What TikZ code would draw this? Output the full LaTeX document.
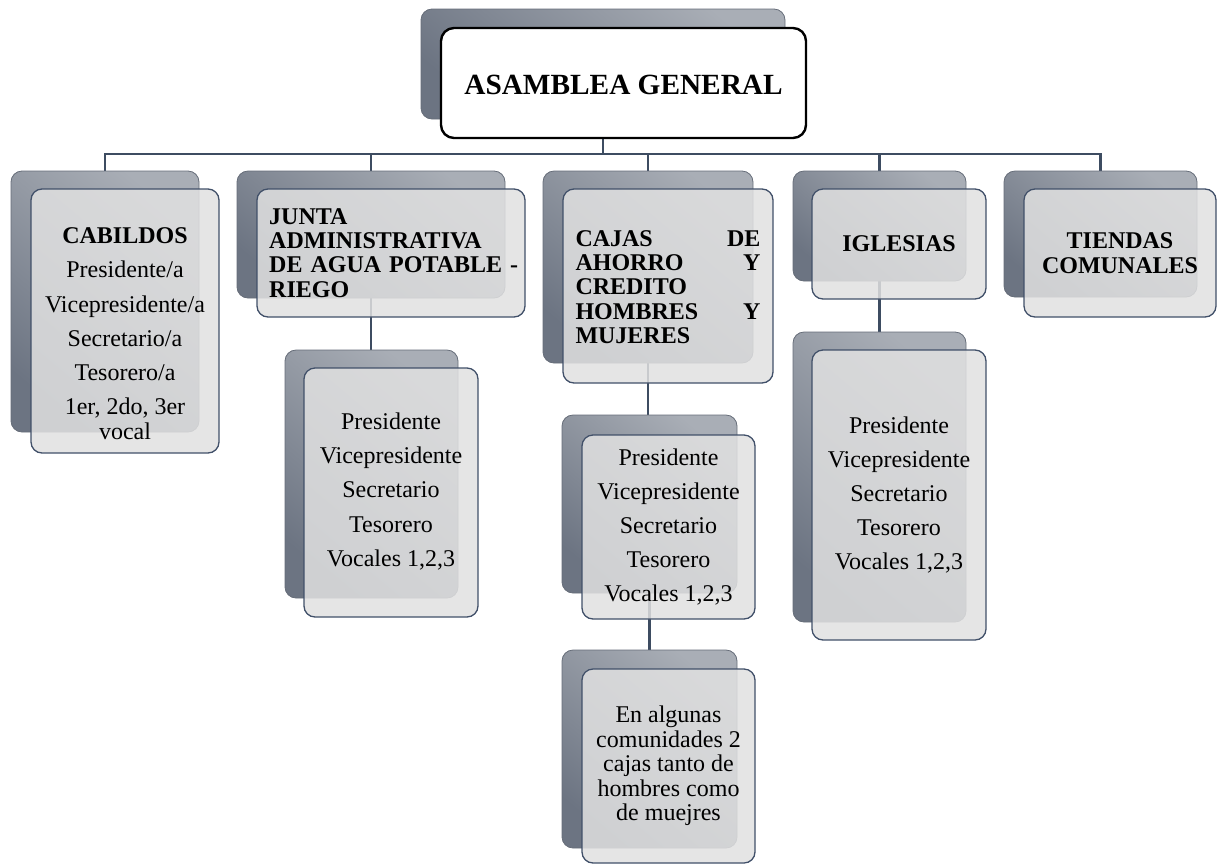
\documentclass[tikz,border=0pt]{standalone}
\usepackage{fontspec}
\setmainfont{Liberation Serif}
\usetikzlibrary{calc}
\pgfdeclarelayer{background}
\pgfsetlayers{background,main}
\definecolor{backL}{HTML}{A9AEB6}
\definecolor{backD}{HTML}{6C7482}
\definecolor{backE}{HTML}{666D79}
\definecolor{frontF}{HTML}{E1E1E1}
\definecolor{frontE}{HTML}{415069}
\definecolor{connC}{HTML}{3D4C61}
\tikzset{
  backbox/.style={rectangle, rounded corners=11pt, anchor=north west, inner sep=0pt, outer sep=0pt,
    draw=backE, line width=0.8pt, top color=backL, bottom color=backD, shading angle=-40},
  frontbox/.style={rectangle, rounded corners=11pt, anchor=north west, inner sep=0pt, outer sep=0pt,
    draw=frontE, line width=1.3pt, fill=frontF, fill opacity=0.85, text opacity=1},
  mainbox/.style={rectangle, rounded corners=13pt, anchor=north west, inner sep=0pt, outer sep=0pt,
    draw=black, line width=2.4pt, fill=white},
  conn/.style={draw=connC, line width=2.8pt},
  lbl/.style={align=center, inner sep=0pt},
  hdr/.style={font=\fontsize{24}{24.3}\selectfont\bfseries},
  roles/.style={font=\fontsize{24}{34.2}\selectfont},
}
\begin{document}
\begin{tikzpicture}[x=1pt,y=-1pt]
\useasboundingbox (0,0) rectangle (1218,863);

% top
\node[backbox, minimum width=364pt, minimum height=110pt] (mainB) at (421,9) {};
\node[mainbox, minimum width=365pt, minimum height=110pt] (mainF) at (441,28) {};
\node[lbl, font=\fontsize{29.3}{30}\selectfont\bfseries] (mainT) at ($(mainF.center)+(0,2)$) {ASAMBLEA GENERAL};

% CABILDOS
\node[backbox, minimum width=188pt, minimum height=261pt] (cabB) at (11,171) {};
\node[frontbox, minimum width=188pt, minimum height=264pt] (cabF) at (31,189) {};
\node[lbl, roles] (cabT) at (125,334)
  {\textbf{CABILDOS}\\Presidente/a\\Vicepresidente/a\\Secretario/a\\Tesorero/a\\1er, 2do, 3er\\[-9pt]vocal};

% JUNTA
\node[backbox, minimum width=268pt, minimum height=127pt] (junB) at (237,171) {};
\node[frontbox, minimum width=268pt, minimum height=128pt] (junF) at (257,189) {};
\node[lbl, hdr, align=left, text width=250pt, anchor=west] (junT) at ($(junF.west)+(12,0)$)
  {JUNTA\\ADMINISTRATIVA\\DE AGUA POTABLE -\\RIEGO};

\node[backbox, minimum width=173pt, minimum height=248pt] (juncB) at (285,350) {};
\node[frontbox, minimum width=174pt, minimum height=249pt] (juncF) at (304,368) {};
\node[lbl, roles] (juncT) at ($(juncF.center)+(0,-1)$)
  {Presidente\\Vicepresidente\\Secretario\\Tesorero\\Vocales 1,2,3};

% CAJAS
\node[backbox, minimum width=210pt, minimum height=192pt] (cajB) at (543,171) {};
\node[frontbox, minimum width=210pt, minimum height=194pt] (cajF) at (563,189) {};
\node[lbl, hdr, align=left, text width=185pt] (cajT) at ($(cajF.center)+(0,1)$)
  {CAJAS\hfill DE\\AHORRO\hfill Y\\CREDITO\\HOMBRES\hfill Y\\MUJERES};

\node[backbox, minimum width=175pt, minimum height=178pt] (caj1B) at (562,415) {};
\node[frontbox, minimum width=173pt, minimum height=184pt] (caj1F) at (582,435) {};
\node[lbl, roles] (caj1T) at ($(caj1F.center)+(0,0)$)
  {Presidente\\Vicepresidente\\Secretario\\Tesorero\\Vocales 1,2,3};

\node[backbox, minimum width=175pt, minimum height=198pt] (caj2B) at (562,650) {};
\node[frontbox, minimum width=173pt, minimum height=194pt] (caj2F) at (582,669) {};
\node[lbl, font=\fontsize{24}{24.5}\selectfont] (caj2T) at (caj2F.center)
  {En algunas\\comunidades 2\\cajas tanto de\\hombres como\\de muejres};

% IGLESIAS
\node[backbox, minimum width=173pt, minimum height=110pt] (iglB) at (793,171) {};
\node[frontbox, minimum width=174pt, minimum height=110pt] (iglF) at (812,189) {};
\node[lbl, hdr] (iglT) at (iglF.center) {IGLESIAS};

\node[backbox, minimum width=173pt, minimum height=290pt] (iglcB) at (793,332) {};
\node[frontbox, minimum width=174pt, minimum height=290pt] (iglcF) at (812,350) {};
\node[lbl, roles] (iglcT) at (iglcF.center)
  {Presidente\\Vicepresidente\\Secretario\\Tesorero\\Vocales 1,2,3};

% TIENDAS
\node[backbox, minimum width=193pt, minimum height=126pt] (tieB) at (1004,171) {};
\node[frontbox, minimum width=192pt, minimum height=128pt] (tieF) at (1024,189) {};
\node[lbl, font=\fontsize{24}{25}\selectfont\bfseries] (tieT) at (tieF.center) {TIENDAS\\COMUNALES};

% connectors
\coordinate (busy) at (0,154);
\begin{pgfonlayer}{background}
  \draw[conn] (mainB.center) -- (mainB.center |- busy);
  \foreach \n in {cab,jun,caj,igl,tie}
    \draw[conn] (mainB.center |- busy) -| (\n B.center);
  \draw[conn] (junB.center) -- (junB.center |- juncB.center);
  \draw[conn] (cajB.center) -- (cajB.center |- caj1B.center);
  \draw[conn] (caj1B.center) -- (caj1B.center |- caj2B.center);
  \draw[conn] (iglB.center) -- (iglB.center |- iglcB.center);
\end{pgfonlayer}
\end{tikzpicture}
\end{document}
